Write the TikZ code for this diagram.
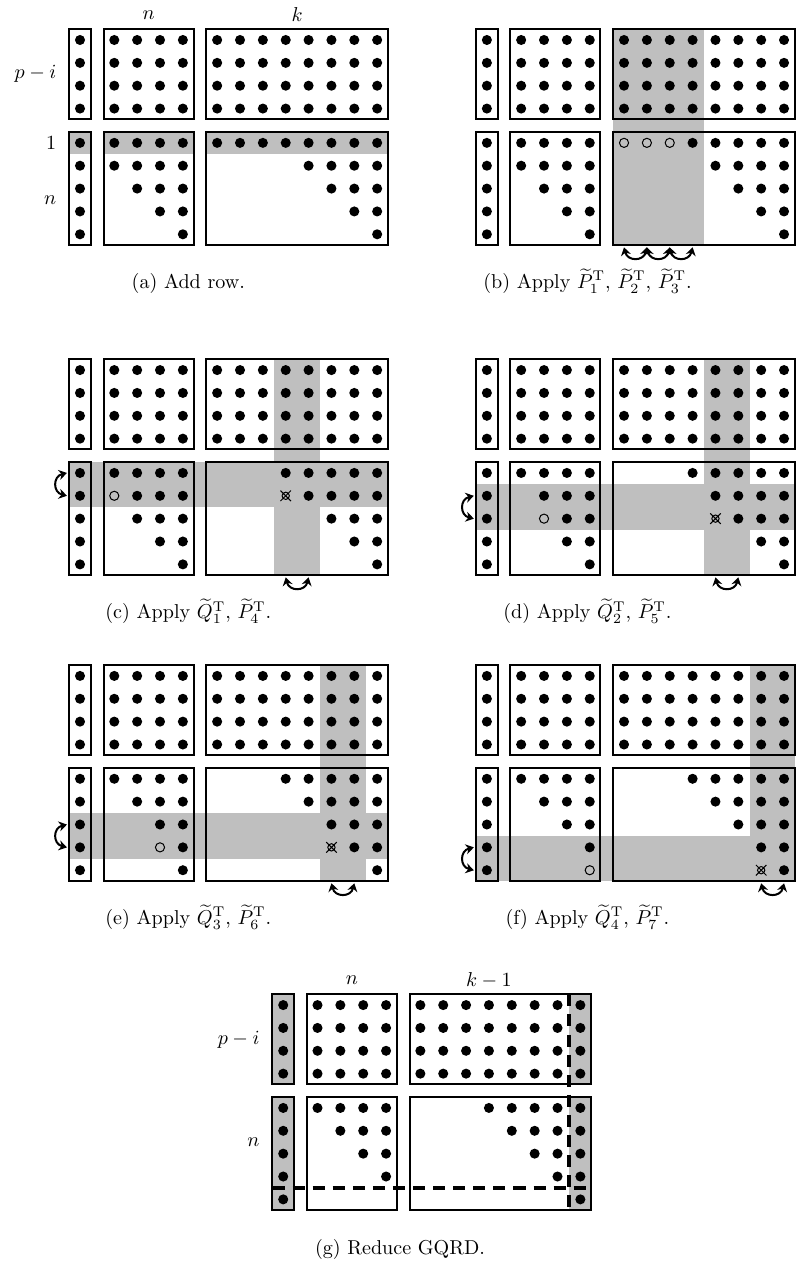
\documentclass[tikz,border=0pt]{standalone}
\usepackage{amsmath}
\usepackage{tikz}
\usetikzlibrary{arrows.meta}

% outlines of the six blocks of one panel
\newcommand{\gqframes}{%
  \foreach \ytop/\ybot in {0/-3,-4.5/-8.5}{%
    \draw[blockframe] (-0.47,\ytop+0.47) rectangle (0.47,\ybot-0.47);
    \draw[blockframe] (1.03,\ytop+0.47) rectangle (4.97,\ybot-0.47);
    \draw[blockframe] (5.53,\ytop+0.47) rectangle (13.47,\ybot-0.47);
  }}
% full upper part
\newcommand{\gqupper}{%
  \foreach \y in {0,-1,-2,-3}
    \foreach \x in {0,1.5,2.5,3.5,4.5,6,7,8,9,10,11,12,13}
      \fill (\x,\y) circle[radius=0.22];}
% lower part: row/{columns} per entry
\newcommand{\gqlower}[1]{%
  \foreach \y/\cs in {#1}{%
    \fill (0,\y) circle[radius=0.22];
    \foreach \x in \cs \fill (\x,\y) circle[radius=0.22];
  }}
\newcommand{\gqzero}[2]{\draw[zero] (#1,#2) circle[radius=0.2];}
\newcommand{\gqfillin}[2]{%
  \draw[zero] (#1,#2) circle[radius=0.16]
    (#1-0.23,#2-0.23) -- (#1+0.23,#2+0.23)
    (#1-0.23,#2+0.23) -- (#1+0.23,#2-0.23);}
\newcommand{\gqcolswap}[1]{\draw[rotarrow] (#1,-9.07) .. controls +(0.15,-0.62) and +(-0.15,-0.62) .. (#1+1,-9.07);}
\newcommand{\gqrowswap}[1]{\draw[rotarrow] (-0.57,#1) .. controls +(-0.62,-0.15) and +(-0.62,0.15) .. (-0.57,#1-1);}

\begin{document}
\begin{tikzpicture}[
    x=0.4cm, y=0.4cm,
    blockframe/.style={line width=1pt},
    gband/.style={fill=black!25},
    zero/.style={line width=0.5pt},
    rotarrow/.style={{Stealth[length=4pt,width=5pt]}-{Stealth[length=4pt,width=5pt]}, line width=1pt},
    reducecut/.style={line width=1.6pt, dash pattern=on 6pt off 4pt},
    dimlabel/.style={anchor=east, inner sep=0pt},
    subcaption/.style={anchor=base}
  ]
  \path[use as bounding box, fill=white] (-3.5,1.75) rectangle (31.28,-53.81);

  % (a)
  \fill[gband] (-0.47,-4.03) rectangle (0.47,-5);
  \fill[gband] (1.03,-4.03) rectangle (4.97,-5);
  \fill[gband] (5.53,-4.03) rectangle (13.47,-5);
  \gqframes
  \gqupper
  \gqlower{-4.5/{1.5,2.5,3.5,4.5,6,7,8,9,10,11,12,13},-5.5/{1.5,2.5,3.5,4.5,10,11,12,13},
    -6.5/{2.5,3.5,4.5,11,12,13},-7.5/{3.5,4.5,12,13},-8.5/{4.5,13}}
  \node (na) at (3,1.1) {$n$};
  \node (ka) at (9.5,1.1) {$k$};
  \node[dimlabel] (pia) at (-1.02,-1.5) {$p-i$};
  \node[dimlabel] (onea) at (-1.02,-4.5) {$1$};
  \node[dimlabel] (nla) at (-1.02,-7) {$n$};
  \node[subcaption] (capa) at (4.74,-10.86) {(a) Add row.};

  % (b)
  \begin{scope}[shift={(17.8,0)}]
    \fill[gband] (5.53,0.47) rectangle (9.5,-8.97);
    \gqframes
    \gqupper
    \gqlower{-4.5/{1.5,2.5,3.5,4.5,9,10,11,12,13},-5.5/{1.5,2.5,3.5,4.5,10,11,12,13},
      -6.5/{2.5,3.5,4.5,11,12,13},-7.5/{3.5,4.5,12,13},-8.5/{4.5,13}}
    \foreach \x in {6,7,8} {\gqzero{\x}{-4.5} \gqcolswap{\x}}
    \node[subcaption] (capb) at (4.4,-10.86) {(b) Apply $\widetilde{P}_1^{\mathrm{T}}$, $\widetilde{P}_2^{\mathrm{T}}$, $\widetilde{P}_3^{\mathrm{T}}$.};
  \end{scope}

  % (c)
  \begin{scope}[shift={(0,-14.44)}]
    \fill[gband] (8.5,0.47) rectangle (10.5,-8.97);
    \fill[gband] (-0.47,-4.03) rectangle (13.47,-6);
    \gqframes
    \gqupper
    \gqlower{-4.5/{1.5,2.5,3.5,4.5,9,10,11,12,13},-5.5/{2.5,3.5,4.5,10,11,12,13},
      -6.5/{2.5,3.5,4.5,11,12,13},-7.5/{3.5,4.5,12,13},-8.5/{4.5,13}}
    \gqzero{1.5}{-5.5}
    \gqfillin{9}{-5.5}
    \gqrowswap{-4.5}
    \gqcolswap{9}
    \node[subcaption] (capc) at (4.74,-10.86) {(c) Apply $\widetilde{Q}_1^{\mathrm{T}}$, $\widetilde{P}_4^{\mathrm{T}}$.};
  \end{scope}

  % (d)
  \begin{scope}[shift={(17.8,-14.44)}]
    \fill[gband] (9.5,0.47) rectangle (11.5,-8.97);
    \fill[gband] (-0.47,-5) rectangle (13.47,-7);
    \gqframes
    \gqupper
    \gqlower{-4.5/{1.5,2.5,3.5,4.5,9,10,11,12,13},-5.5/{2.5,3.5,4.5,10,11,12,13},
      -6.5/{3.5,4.5,11,12,13},-7.5/{3.5,4.5,12,13},-8.5/{4.5,13}}
    \gqzero{2.5}{-6.5}
    \gqfillin{10}{-6.5}
    \gqrowswap{-5.5}
    \gqcolswap{10}
    \node[subcaption] (capd) at (4.4,-10.86) {(d) Apply $\widetilde{Q}_2^{\mathrm{T}}$, $\widetilde{P}_5^{\mathrm{T}}$.};
  \end{scope}

  % (e)
  \begin{scope}[shift={(0,-27.82)}]
    \fill[gband] (10.5,0.47) rectangle (12.5,-8.97);
    \fill[gband] (-0.47,-6) rectangle (13.47,-8);
    \gqframes
    \gqupper
    \gqlower{-4.5/{1.5,2.5,3.5,4.5,9,10,11,12,13},-5.5/{2.5,3.5,4.5,10,11,12,13},
      -6.5/{3.5,4.5,11,12,13},-7.5/{4.5,12,13},-8.5/{4.5,13}}
    \gqzero{3.5}{-7.5}
    \gqfillin{11}{-7.5}
    \gqrowswap{-6.5}
    \gqcolswap{11}
    \node[subcaption] (cape) at (4.74,-10.86) {(e) Apply $\widetilde{Q}_3^{\mathrm{T}}$, $\widetilde{P}_6^{\mathrm{T}}$.};
  \end{scope}

  % (f)
  \begin{scope}[shift={(17.8,-27.82)}]
    \fill[gband] (11.5,0.47) rectangle (13.47,-8.97);
    \fill[gband] (-0.47,-7) rectangle (13.47,-8.97);
    \gqframes
    \gqupper
    \gqlower{-4.5/{1.5,2.5,3.5,4.5,9,10,11,12,13},-5.5/{2.5,3.5,4.5,10,11,12,13},
      -6.5/{3.5,4.5,11,12,13},-7.5/{4.5,12,13},-8.5/{13}}
    \gqzero{4.5}{-8.5}
    \gqfillin{12}{-8.5}
    \gqrowswap{-7.5}
    \gqcolswap{12}
    \node[subcaption] (capf) at (4.4,-10.86) {(f) Apply $\widetilde{Q}_4^{\mathrm{T}}$, $\widetilde{P}_7^{\mathrm{T}}$.};
  \end{scope}

  % (g)
  \begin{scope}[shift={(8.89,-42.22)}]
    \fill[gband] (-0.47,0.47) rectangle (0.47,-3.47);
    \fill[gband] (-0.47,-4.03) rectangle (0.47,-8.97);
    \fill[gband] (12.5,0.47) rectangle (13.47,-3.47);
    \fill[gband] (12.5,-4.03) rectangle (13.47,-8.97);
    \gqframes
    \draw[reducecut] (12.5,0.47) -- (12.5,-8.97);
    \draw[reducecut] (-0.47,-8) -- (13.47,-8);
    \gqupper
    \gqlower{-4.5/{1.5,2.5,3.5,4.5,9,10,11,12,13},-5.5/{2.5,3.5,4.5,10,11,12,13},
      -6.5/{3.5,4.5,11,12,13},-7.5/{4.5,12,13},-8.5/{13}}
    \node (ng) at (3,1.1) {$n$};
    \node (kg) at (9,1.1) {$k-1$};
    \node[dimlabel] (pig) at (-1.02,-1.5) {$p-i$};
    \node[dimlabel] (nlg) at (-1.02,-6) {$n$};
    \node[subcaption] (capg) at (5.11,-10.9) {(g) Reduce GQRD.};
  \end{scope}
\end{tikzpicture}
\end{document}
